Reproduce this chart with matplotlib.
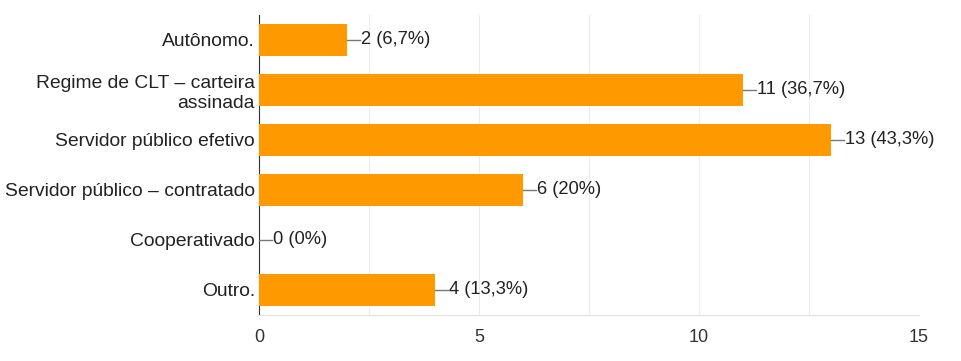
import numpy as np
import matplotlib.pyplot as plt

plt.rcParams['font.family'] = ['Liberation Sans', 'DejaVu Sans']

categories = ["Autônomo.", "Regime de CLT – carteira\nassinada", "Servidor público efetivo",
              "Servidor público – contratado", "Cooperativado", "Outro."]
counts = [2, 11, 13, 6, 0, 4]
labels = ["2 (6,7%)", "11 (36,7%)", "13 (43,3%)", "6 (20%)", "0 (0%)", "4 (13,3%)"]

fig = plt.figure(figsize=(9.62, 3.61), dpi=100)
ax = fig.add_axes([259 / 962, 1 - 315 / 361, 660 / 962, 300 / 361])

y = np.arange(len(categories))
ax.barh(y, counts, height=0.64, color="#ff9900", zorder=3)
ax.set_ylim(len(categories) - 0.5, -0.5)
ax.set_xlim(0, 15)

for yi, c, lab in zip(y, counts, labels):
    ax.plot([c, c + 0.3], [yi, yi], color="#777777", lw=1, zorder=4, clip_on=False)
    ax.text(c + 0.32, yi, lab, va="center", ha="left", fontsize=13.2, color="#222222")

ax.set_xticks([0, 5, 10, 15])
ax.set_xticks(np.arange(0, 15.1, 2.5), minor=True)
ax.grid(axis="x", which="both", color="#ededed", lw=0.8, zorder=0)
ax.set_yticks(y)
ax.set_yticklabels(categories, fontsize=13.9, color="#222222", multialignment="right",
                   linespacing=1.25)
ax.tick_params(axis="y", length=0, pad=3)
ax.tick_params(axis="x", which="both", length=0, pad=10, labelsize=13, labelcolor="#333333")

for s in ["top", "right"]:
    ax.spines[s].set_visible(False)
ax.spines["bottom"].set_color("#e0e0e0")
ax.spines["left"].set_color("#333333")

fig.savefig("out.png", dpi=100)
